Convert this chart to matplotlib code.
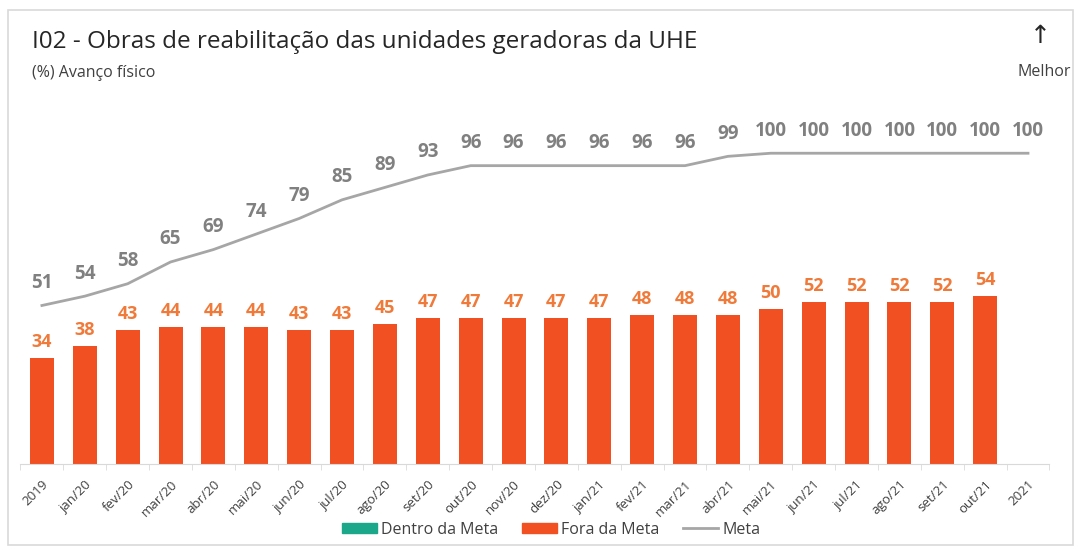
import matplotlib.pyplot as plt
from matplotlib.patches import Patch, Rectangle
from matplotlib.lines import Line2D

plt.rcParams['font.family'] = ['Open Sans', 'DejaVu Sans']

periodos = ['2019', 'jan/20', 'fev/20', 'mar/20', 'abr/20', 'mai/20', 'jun/20', 'jul/20',
            'ago/20', 'set/20', 'out/20', 'nov/20', 'dez/20', 'jan/21', 'fev/21', 'mar/21',
            'abr/21', 'mai/21', 'jun/21', 'jul/21', 'ago/21', 'set/21', 'out/21', '2021']
meta = [51, 54, 58, 65, 69, 74, 79, 85, 89, 93, 96, 96, 96, 96, 96, 96,
        99, 100, 100, 100, 100, 100, 100, 100]
realizado = [34, 38, 43, 44, 44, 44, 43, 43, 45, 47, 47, 47, 47, 47, 48, 48,
             48, 50, 52, 52, 52, 52, 54]

cor_dentro = '#1BA789'
cor_fora = '#F05022'
cor_meta = '#A6A6A6'

fig = plt.figure(figsize=(10.78, 5.5), dpi=100)
ax = fig.add_axes([0.019, 0.1564, 0.9545, 0.678])

x = list(range(len(periodos)))
xr = x[:len(realizado)]
cores = [cor_dentro if r >= m else cor_fora for r, m in zip(realizado, meta)]
ax.bar(xr, realizado, width=0.56, color=cores, zorder=2)
ax.plot(x, meta, color=cor_meta, lw=2, zorder=3)

for i, v in zip(xr, realizado):
    ax.annotate(str(v), (i, v), xytext=(0, 5), textcoords='offset points',
                ha='center', va='bottom', fontsize=13, fontweight='bold', color='#EF7A3A')
for i, v in zip(x, meta):
    ax.annotate(str(v), (i, v), xytext=(0, 9), textcoords='offset points',
                ha='center', va='bottom', fontsize=13.5, fontweight='bold', color='#808080')

ax.set_xlim(-0.5, len(periodos) - 0.5)
ax.set_ylim(0, 120)
ax.set_yticks([])
for s in ['top', 'right', 'left']:
    ax.spines[s].set_visible(False)
ax.spines['bottom'].set_color('#D9D9D9')
ax.set_xticks(x)
ax.set_xticklabels(periodos, rotation=45, ha='right', rotation_mode='anchor',
                   fontsize=9.5, color='#404040')
ax.tick_params(axis='x', length=0, pad=10)
ax.set_xticks([i - 0.5 for i in range(len(periodos) + 1)], minor=True)
ax.tick_params(axis='x', which='minor', length=4, color='#D9D9D9')

fig.text(0.030, 0.923, 'I02 - Obras de reabilitação das unidades geradoras da UHE',
         fontsize=17.5, color='#262626', va='center')
fig.text(0.030, 0.868, '(%) Avanço físico', fontsize=11.5, color='#404040', va='center')
fig.text(0.965, 0.935, '↑', fontsize=18, color='#262626', ha='center', va='center',
         family=['DejaVu Sans'])
fig.text(0.969, 0.870, 'Melhor', fontsize=11.5, color='#404040', ha='center', va='center')

fig.patches.append(Rectangle((0.007, 0.009), 0.988, 0.973, transform=fig.transFigure,
                             fill=False, edgecolor='#D9D9D9', lw=1.2))

handles = [Patch(color=cor_dentro, label='Dentro da Meta'),
           Patch(color=cor_fora, label='Fora da Meta'),
           Line2D([], [], color=cor_meta, lw=2, label='Meta')]
fig.legend(handles=handles, loc='center', bbox_to_anchor=(0.511, 0.037), ncol=3,
           frameon=False, fontsize=11.5, handlelength=2.2, handleheight=0.6,
           columnspacing=1.5, handletextpad=0.25, labelcolor='#404040')

fig.savefig('out.png', dpi=100)
